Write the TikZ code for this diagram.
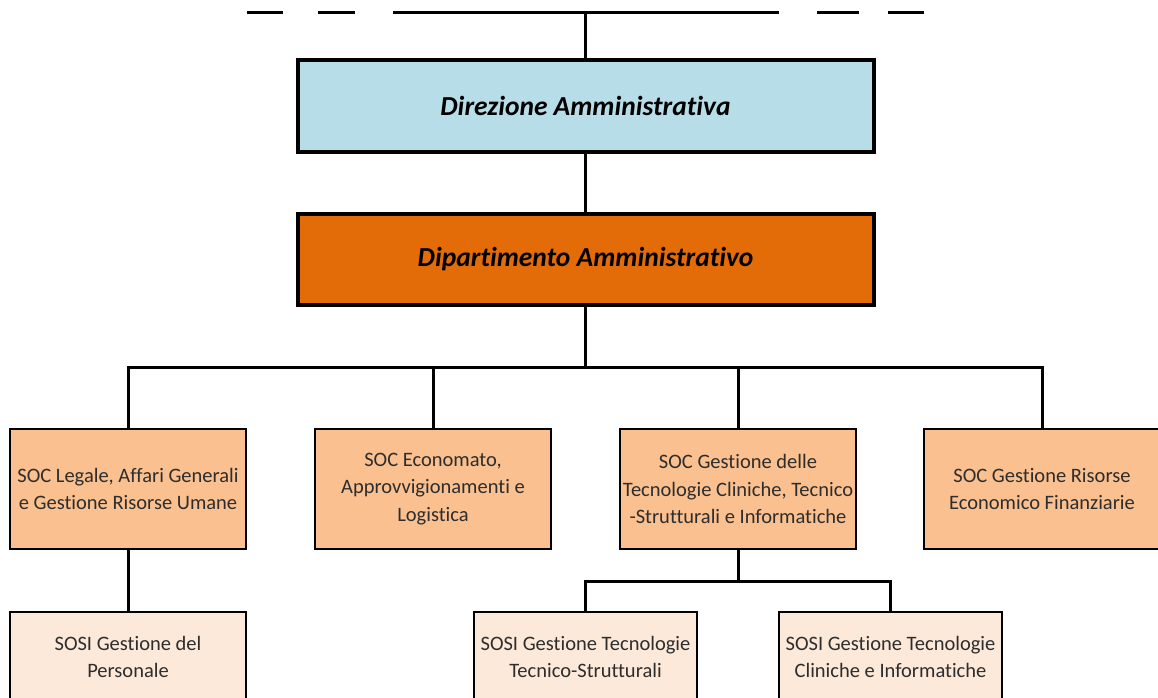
\documentclass[tikz,border=0pt]{standalone}
\usepackage{fontspec}
\setmainfont{Carlito}[Ligatures=NoCommon]
\definecolor{dirblue}{RGB}{183,222,232}
\definecolor{deporange}{RGB}{227,108,9}
\definecolor{socfill}{RGB}{250,192,143}
\definecolor{sosifill}{RGB}{253,233,217}
\definecolor{txtgray}{RGB}{45,45,45}
\begin{document}
\begin{tikzpicture}[x=1pt,y=-1pt,
  conn/.style={line width=3pt},
  topbox/.style={draw, line width=4pt, minimum width=576pt, minimum height=91pt, inner sep=0pt,
     font=\fontsize{27.5}{32}\selectfont\bfseries\itshape},
  socbox/.style={draw, line width=2.8pt, fill=socfill, minimum width=236pt, minimum height=120pt,
     inner sep=1pt, align=center, text=txtgray, font=\fontsize{20.5}{27.5}\selectfont},
  sosibox/.style={draw, line width=2.8pt, fill=sosifill, minimum width=236pt, minimum height=90pt,
     inner sep=1pt, align=center, text=txtgray, font=\fontsize{20.5}{27.5}\selectfont},
  sosinarrow/.style={sosibox, minimum width=223pt}
]
\useasboundingbox (0,0) rectangle (1158,698);
\begin{scope}
\clip (0,0) rectangle (1158,698);
% top line
\coordinate (t0) at (585,13);
\draw[conn] (247,13) -- (283,13);
\draw[conn] (318,13) -- (355,13);
\draw[conn] (393,13) -- (779,13);
\draw[conn] (817,13) -- (859,13);
\draw[conn] (888,13) -- (924,13);

\node[topbox, fill=dirblue] (dir) at (585.5,106) {Direzione Amministrativa};
\node[topbox, fill=deporange] (dip) at (585.5,259) {Dipartimento Amministrativo};

\node[socbox] (a) at (128,489) {SOC Legale, Affari Generali\\e Gestione Risorse Umane};
\node[socbox] (b) at (433,489) {SOC Economato,\\Approvvigionamenti e\\Logistica};
\node[socbox] (c) at (738,489) {SOC Gestione delle\\Tecnologie Cliniche, Tecnico\\-Strutturali e Informatiche};
\node[socbox] (d) at (1042,489) {SOC Gestione Risorse\\Economico Finanziarie};

\node[sosibox] (a1) at (128,657) {SOSI Gestione del\\Personale};
\node[sosinarrow] (c1) at (585.5,657) {SOSI Gestione Tecnologie\\Tecnico-Strutturali};
\node[sosinarrow] (c2) at (890.5,657) {SOSI Gestione Tecnologie\\Cliniche e Informatiche};

\draw[conn] (dir.north) -- (dir.north |- t0);
\draw[conn] (dir.south) -- (dip.north);
\coordinate (bus) at (585.5,367);
\draw[conn] (dip.south) -- (bus);
\draw[conn] (a.north) -- (a.north |- bus) -- (d.north |- bus) -- (d.north);
\draw[conn] (b.north) -- (b.north |- bus);
\draw[conn] (c.north) -- (c.north |- bus);
\draw[conn] (a.south) -- (a1.north);
\coordinate (bus2) at (738,581);
\draw[conn] (c.south) -- (bus2);
\draw[conn] (c1.north) -- (c1.north |- bus2) -- (c2.north |- bus2) -- (c2.north);
\end{scope}
\end{tikzpicture}
\end{document}
